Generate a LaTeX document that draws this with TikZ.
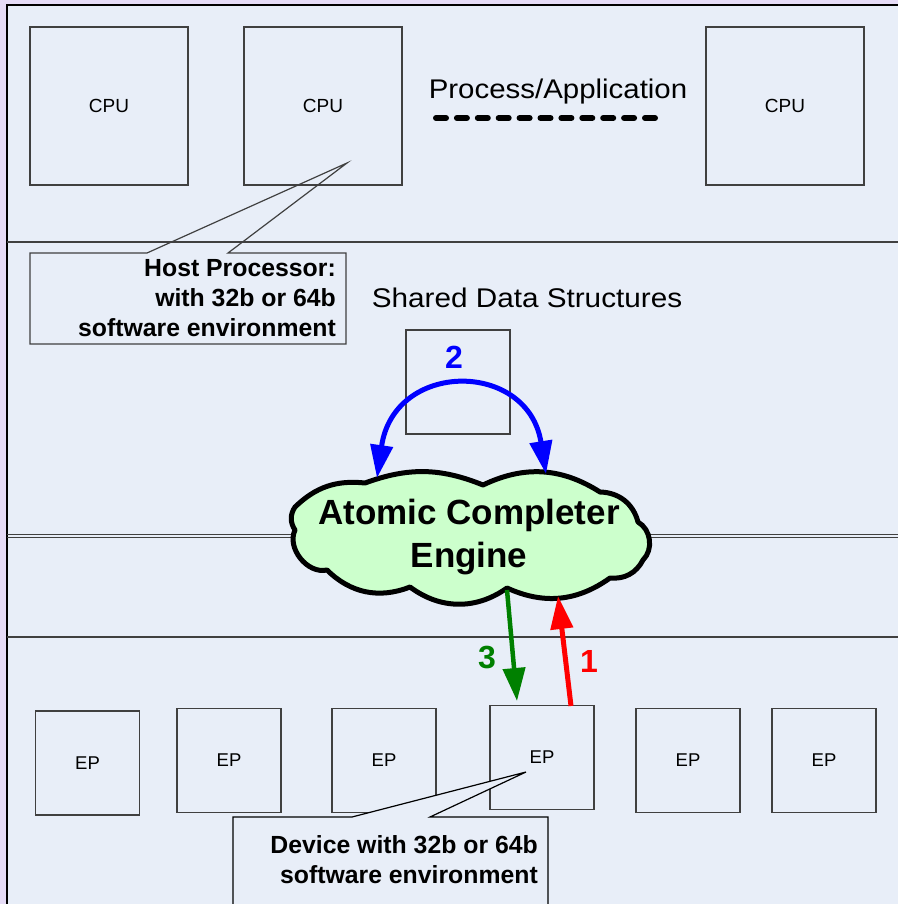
\documentclass[tikz,border=0pt]{standalone}
\usepackage{fontspec}
\setmainfont{Liberation Sans}
\usetikzlibrary{arrows.meta}

\definecolor{bgpurple}{HTML}{E6DCF7}
\definecolor{panel}{HTML}{E8EEF8}
\definecolor{cloudgreen}{HTML}{CCFFCC}
\definecolor{edgegray}{HTML}{404040}
\definecolor{darkgreen}{HTML}{008000}

\tikzset{
  unitbox/.style={draw=edgegray, line width=1.2pt, fill=panel, inner sep=0pt},
  cpubox/.style={unitbox, minimum width=158pt, minimum height=158pt,
    font=\fontsize{19}{22}\selectfont},
  epbox/.style={unitbox, minimum width=104pt, minimum height=104pt,
    font=\fontsize{18.5}{22}\selectfont},
  sepline/.style={draw=edgegray, line width=1.5pt},
  heading/.style={font=\fontsize{27}{32}\selectfont, inner sep=0pt},
  note/.style={font=\bfseries\fontsize{24.8}{30}\selectfont, align=right, inner sep=0pt},
  callout/.style={draw=edgegray, line width=1.2pt},
  num/.style={font=\bfseries\fontsize{32}{36}\selectfont, inner sep=0pt},
  cloudline/.style={draw=black, line width=5pt, line join=round, fill=cloudgreen},
  flow/.style={line width=4.5pt, -{Triangle[length=33pt,width=22pt]}},
}

\begin{document}
\begin{tikzpicture}[x=1pt,y=-1pt]
\useasboundingbox (0,0) rectangle (898,904);

% page background and panel
\fill[bgpurple] (0,0) rectangle (898,904);
\fill[panel] (7,5) rectangle (898,904);
\draw[line width=1.5pt, black] (7,904) -- (7,5) -- (898,5);

% layer separators
\draw[sepline] (7,242) -- (898,242);
\draw[sepline] (7,534.5) -- (898,534.5);
\draw[sepline] (7,537.5) -- (898,537.5);
\draw[sepline] (7,637) -- (898,637);

% host processors
\node[cpubox] (cpu1) at (109,106) {CPU};
\node[cpubox] (cpu2) at (323,106) {CPU};
\node[cpubox] (cpu3) at (785,106) {CPU};

\node[heading] (procapp) at (558,92) {\scalebox{1.09}[1]{Process/Application}};
\draw[line width=6pt, line cap=round, dash pattern=on 10pt off 10.9pt] (436,118) -- (655,118);

% host callout
\draw[callout] (30,253) -- (147,253) -- (347,163) -- (228,253) -- (346,253)
  -- (346,344) -- (30,344) -- cycle;
\node[note, anchor=east] (hostnote) at (336,298)
  {Host Processor:\\with 32b or 64b\\software environment};

% shared data structures
\node[heading] (sds) at (527,298) {\scalebox{1.1}[1]{Shared Data Structures}};
\node[unitbox, minimum width=104pt, minimum height=104pt] (shared) at (458,382) {};
\node[num, text=blue] (n2) at (454,357) {2};

% completer engine: a cloud outline made of arcs
\draw[cloudline] (295,530) to[bend left=34] (295,507) to[bend left=25] (365,483)
  to[bend left=21] (483,485) to[bend left=29] (600,492) to[bend left=37] (638,522)
  to[bend left=53] (643,560) to[bend left=34] (610,578) to[bend left=30] (507,588)
  to[bend left=36] (410,587) to[bend left=33] (327,570) to[bend left=64] (295,530) -- cycle;
\node[font=\bfseries\fontsize{35}{43}\selectfont, align=center, inner sep=0pt]
  (ace) at (469,537.5) {Atomic Completer\\Engine};

\coordinate (bl) at (377,478);
\coordinate (br) at (546,474);
\draw[blue, line width=5pt, {Triangle[length=33pt,width=22pt]}-{Triangle[length=33pt,width=22pt]}]
  (bl) .. controls (394,360) and (528,360) .. (br);

% endpoints
\node[epbox] (ep1) at (87.5,763) {EP};
\node[epbox] (ep2) at (229,760.5) {EP};
\node[epbox] (ep3) at (384,760.5) {EP};
\node[epbox] (ep4) at (542,757.5) {EP};
\node[epbox] (ep5) at (688,760.5) {EP};
\node[epbox] (ep6) at (824,760.5) {EP};

% device callout
\draw[callout, draw=black, fill=panel] (233,912) -- (233,817) -- (352,817) -- (526,772)
  -- (430,817) -- (548,817) -- (548,912);
\node[note, anchor=east] (devnote) at (538,860)
  {Device with 32b or 64b\\software environment};

% request and completion flows
\coordinate (g0) at (507,590);
\coordinate (g1) at (517,701);
\coordinate (r0) at (571,706);
\coordinate (r1) at (558,596);
\draw[flow, darkgreen] (g0) -- (g1);
\draw[flow, red, line width=5pt] (r0) -- (r1);
\node[num, text=darkgreen] (n3) at (487,658) {3};
\node[num, text=red] (n1) at (589,661) {1};
\end{tikzpicture}
\end{document}
